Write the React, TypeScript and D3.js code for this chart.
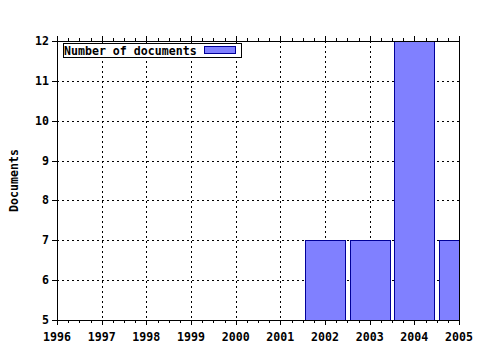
import React from "react";
import * as d3 from "d3";

const years = [1996, 1997, 1998, 1999, 2000, 2001, 2002, 2003, 2004, 2005];
const barYears = [2002, 2003, 2004, 2005];
const barValues = [7, 7, 12, 7];
const yTicks = [5, 6, 7, 8, 9, 10, 11, 12];
const seriesName = "Number of documents";
const yTitle = "Documents";

const W = 480, H = 350;
const L = 57, R = 459, T = 41, B = 320;
const FONT = "'DejaVu Sans Mono', monospace";

export default function App() {
  const x = d3.scaleLinear().domain([1996, 2005]).range([L, R]);
  const y = d3.scaleLinear().domain([5, 12]).range([B, T]);
  const barW = (x(1997) - x(1996)) * 0.9;
  const minorTicks = d3.range(1996, 2005.001, 0.25);

  return (
    <svg width={W} height={H} style={{ position: "absolute", left: 0, top: 0, background: "#fff" }}>
      <defs>
        <clipPath id="plot">
          <rect x={L} y={T} width={R - L} height={B - T} />
        </clipPath>
      </defs>
      <rect x={0} y={0} width={W} height={H} fill="#fff" />
      {/* grid */}
      {years.slice(1, -1).map((yr) => (
        <line key={"gx" + yr} x1={Math.round(x(yr)) + 0.5} x2={Math.round(x(yr)) + 0.5} y1={T} y2={B}
          stroke="#000" strokeWidth={1} strokeDasharray="2,3" />
      ))}
      {yTicks.slice(1, -1).map((v) => (
        <line key={"gy" + v} x1={L} x2={R} y1={Math.round(y(v)) + 0.5} y2={Math.round(y(v)) + 0.5}
          stroke="#000" strokeWidth={1} strokeDasharray="2,3" />
      ))}
      {/* bars */}
      <g clipPath="url(#plot)">
        {barYears.map((yr, i) => (
          <rect key={"b" + yr}
            x={Math.round(x(yr) - barW / 2) + 0.5}
            y={Math.round(y(barValues[i])) + 0.5}
            width={Math.round(barW)}
            height={Math.round(B - y(barValues[i]))}
            fill="#8080ff" stroke="#000099" strokeWidth={1} />
        ))}
      </g>
      {/* frame */}
      <rect x={L + 0.5} y={T + 0.5} width={R - L} height={B - T} fill="none" stroke="#000" strokeWidth={1} />
      {/* bottom ticks */}
      {minorTicks.map((t) => {
        const major = Math.abs(t - Math.round(t)) < 1e-6;
        const px = Math.round(x(t)) + 0.5;
        return (
          <g key={"t" + t}>
            <line x1={px} x2={px} y1={B} y2={B + (major ? 5 : 3)} stroke="#000" />
            <line x1={px} x2={px} y1={T + 1} y2={T - (major ? 5 : 3)} stroke="#000" />
          </g>
        );
      })}
      {/* left ticks */}
      {yTicks.map((v) => (
        <line key={"yt" + v} x1={L - 5} x2={L} y1={Math.round(y(v)) + 0.5} y2={Math.round(y(v)) + 0.5} stroke="#000" />
      ))}
      {/* y labels */}
      {yTicks.map((v) => (
        <text key={"yl" + v} x={L - 8} y={y(v) + 4} textAnchor="end" fontFamily={FONT}
          fontWeight="bold" fontSize={11.6} fill="#000">{v}</text>
      ))}
      {/* x labels */}
      {years.map((yr) => (
        <text key={"xl" + yr} x={x(yr)} y={B + 21} textAnchor="middle" fontFamily={FONT}
          fontWeight="bold" fontSize={11.6} fill="#000">{yr}</text>
      ))}
      {/* y title */}
      <text transform={`translate(18, ${(T + B) / 2}) rotate(-90)`} textAnchor="middle"
        fontFamily={FONT} fontWeight="bold" fontSize={11.6} fill="#000">{yTitle}</text>
      {/* legend */}
      <rect x={63.5} y={43.5} width={178} height={14} fill="#fff" stroke="#000" />
      <text x={64} y={55} fontFamily={FONT} fontWeight="bold" fontSize={11.6} fill="#000">{seriesName}</text>
      <rect x={204.5} y={46.5} width={31} height={7} fill="#8080ff" stroke="#000099" />
    </svg>
  );
}
